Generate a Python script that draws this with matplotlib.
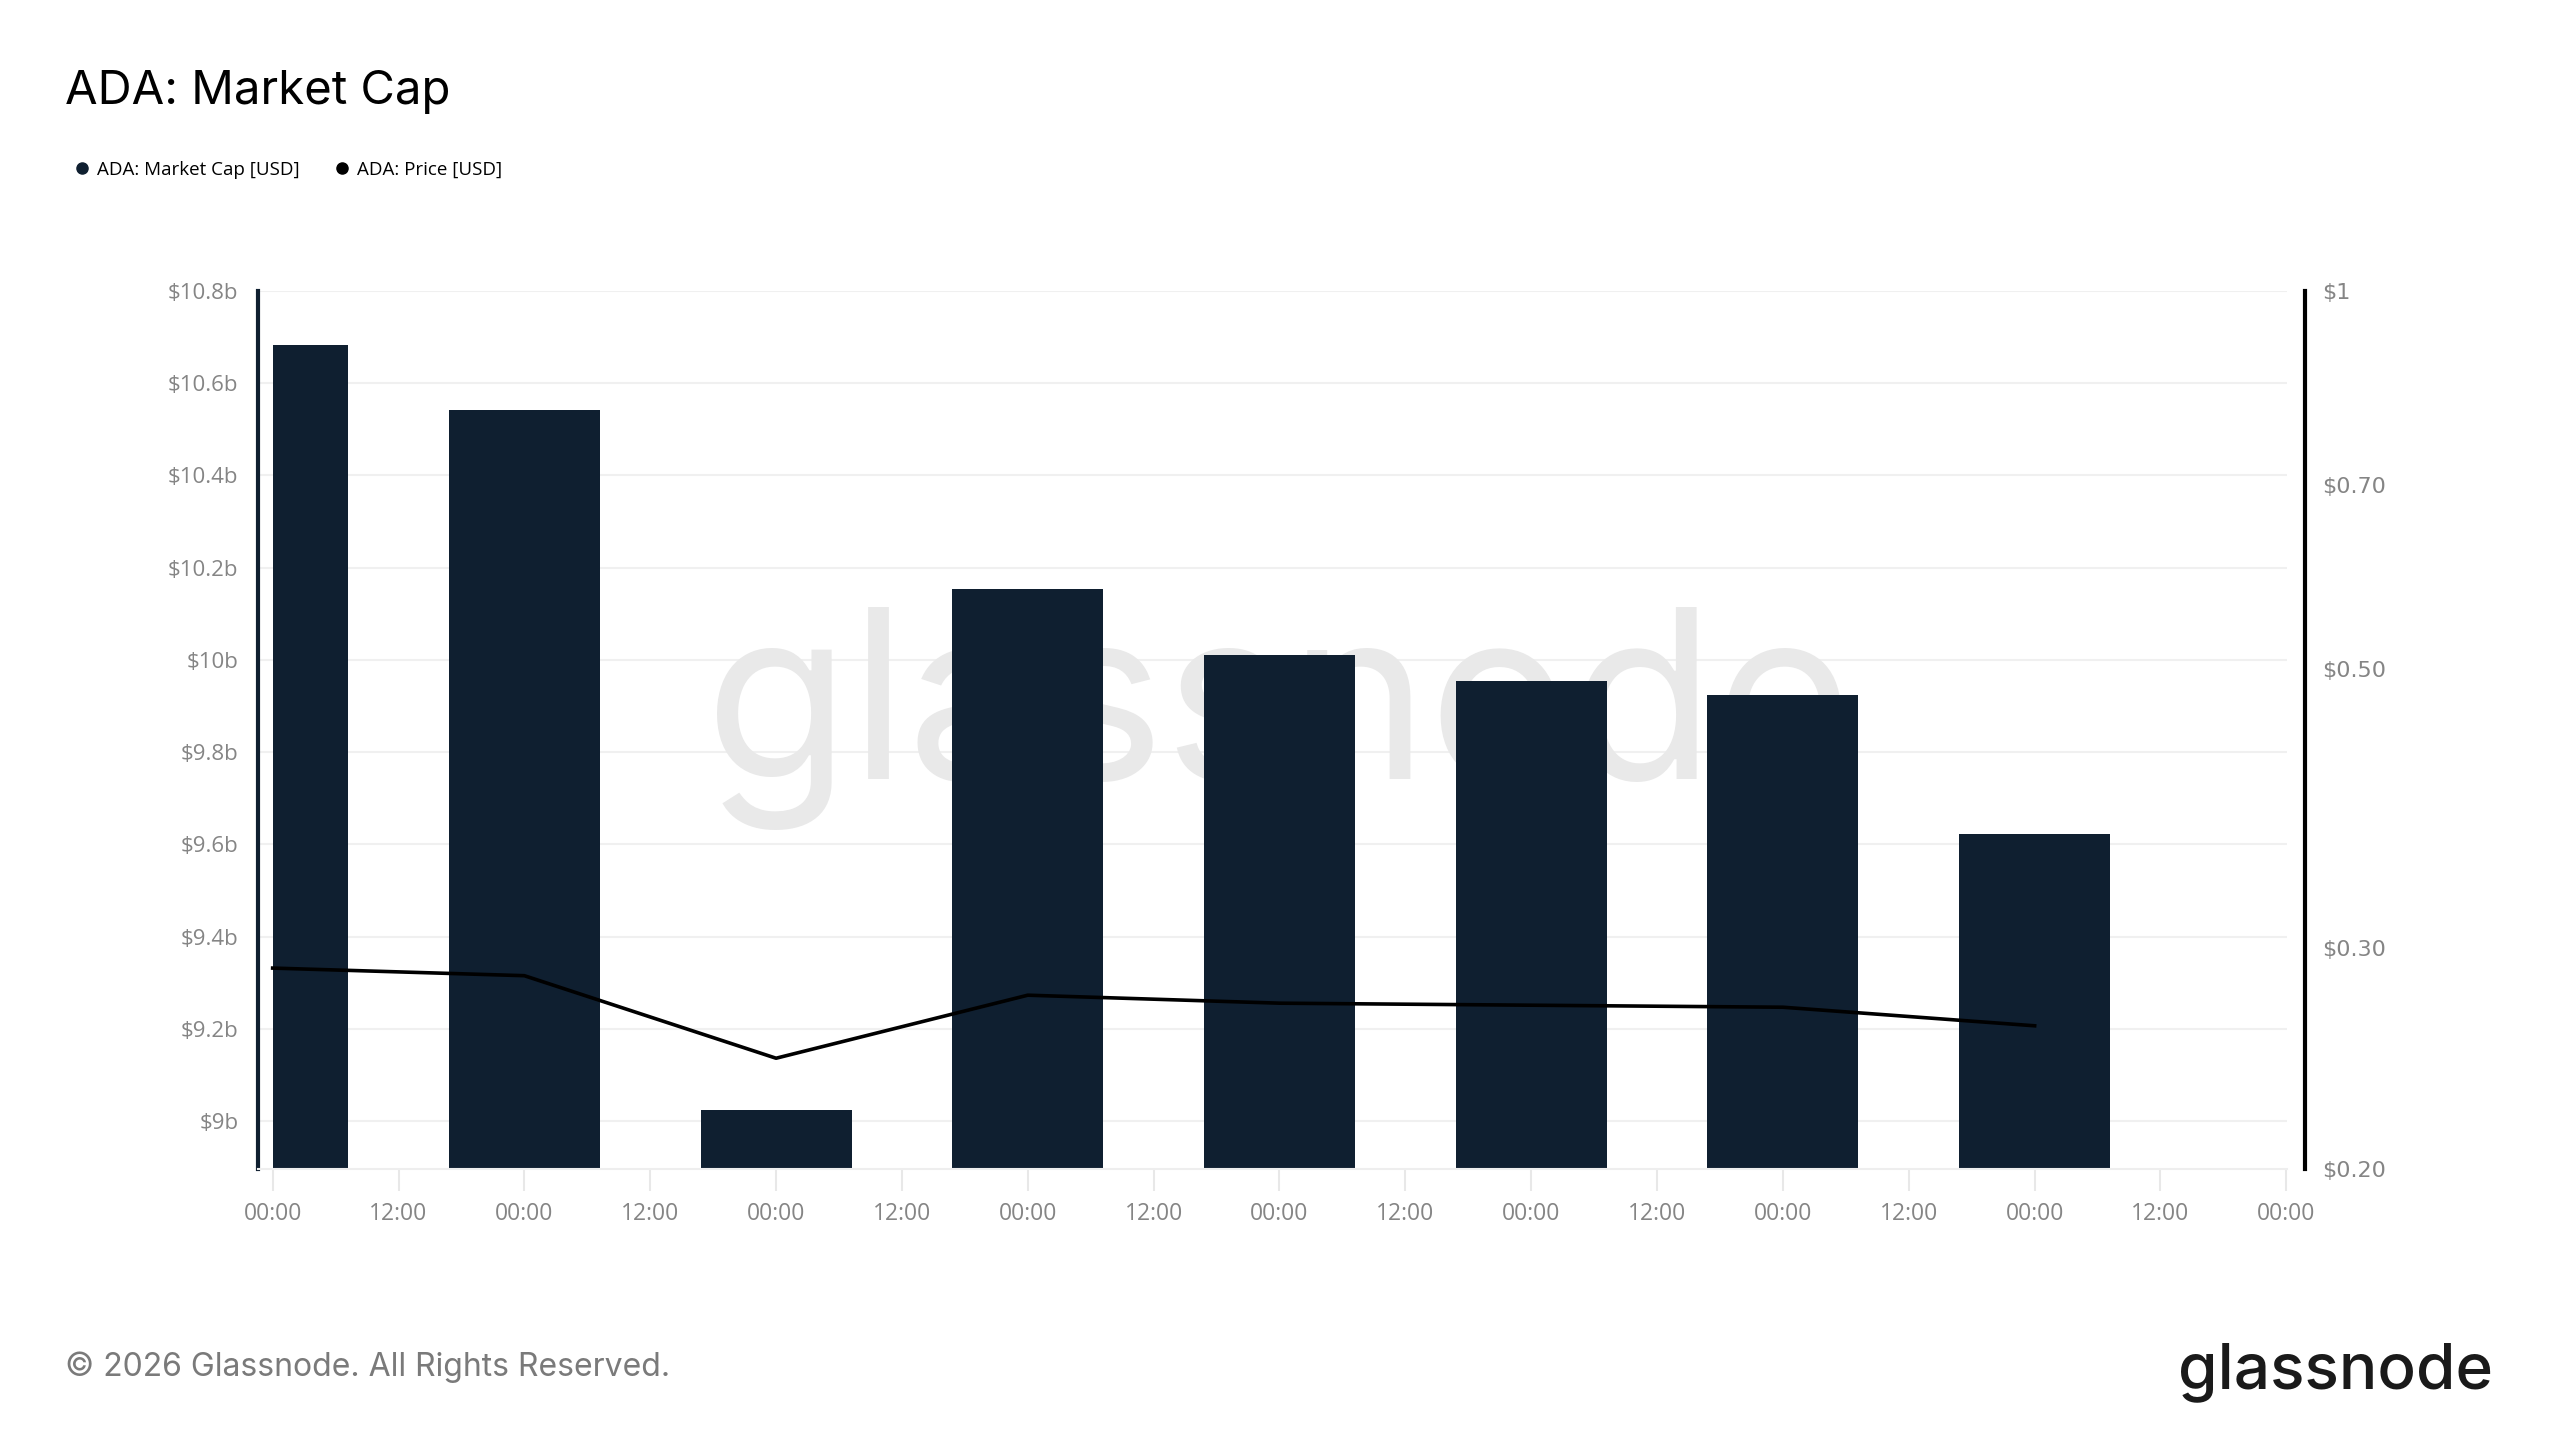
import numpy as np
import matplotlib
matplotlib.use("Agg")
import matplotlib.pyplot as plt
from matplotlib.lines import Line2D
from matplotlib.ticker import FixedLocator, NullLocator

# data (one bar per day)
days = [0, 1, 2, 3, 4, 5, 6, 7]
market_cap_b = [10.683, 10.542, 9.025, 10.153, 10.011, 9.955, 9.923, 9.623]
price_usd = [0.289, 0.285, 0.245, 0.275, 0.271, 0.270, 0.269, 0.260]

cap_ticks = [9.0, 9.2, 9.4, 9.6, 9.8, 10.0, 10.2, 10.4, 10.6, 10.8]
price_ticks = [0.20, 0.30, 0.50, 0.70, 1.0]
price_labels = ["$0.20", "$0.30", "$0.50", "$0.70", "$1"]

navy = "#0f1f30"
gray = "#858585"
tick_font = "Open Sans"

fig = plt.figure(figsize=(25.6, 14.4), dpi=100)
fig.patch.set_facecolor("white")
ax = fig.add_axes([0.1008, 0.1882, 0.7926, 0.61])

# first bar is cut at the start of the range, the others are centred on 00:00
bar_w = 0.6
lefts = []
widths = []
for d in days:
    if d == days[0]:
        lefts.append(d)
        widths.append(bar_w / 2)
    else:
        lefts.append(d - bar_w / 2)
        widths.append(bar_w)
ax.bar(lefts, market_cap_b, width=widths, align="edge", color=navy, zorder=2)

ax.set_ylim(8.897, 10.8)
ax.set_xlim(-0.058, 8.003)
ax.yaxis.set_major_locator(FixedLocator(cap_ticks))
ax.set_yticklabels(["$%gb" % v for v in cap_ticks], fontfamily=tick_font)
ax.yaxis.grid(True, color="#f0f0f0", lw=1.5)
ax.set_axisbelow(True)

xt = np.arange(0, 8.01, 0.5)
ax.set_xticks(xt)
ax.set_xticklabels(["00:00" if i % 2 == 0 else "12:00" for i in range(len(xt))],
                   fontfamily=tick_font)
ax.tick_params(axis="x", length=16, width=1.5, color="#e8e8e8",
               labelcolor=gray, labelsize=16.5, pad=8)
ax.tick_params(axis="y", length=0, labelcolor=gray, labelsize=16, pad=14)

for s in ["top", "right"]:
    ax.spines[s].set_visible(False)
ax.spines["bottom"].set_color("#eeeeee")
ax.spines["bottom"].set_linewidth(1.5)
ax.spines["left"].set_color(navy)
ax.spines["left"].set_linewidth(3)

# watermark
ax.text(0.503, 0.513, "glassnode", transform=ax.transAxes, ha="center", va="center",
        fontsize=170, fontfamily="Inter", color="#e9e9e9", zorder=1)

# price on log right axis
ax2 = ax.twinx()
ax2.plot(days, price_usd, color="black", lw=2.6, zorder=3)
ax2.set_yscale("log")
ax2.set_ylim(0.2, 1.0)
ax2.yaxis.set_major_locator(FixedLocator(price_ticks))
ax2.yaxis.set_minor_locator(NullLocator())
ax2.set_yticklabels(price_labels, fontfamily=tick_font)
ax2.tick_params(axis="y", length=0, labelcolor=gray, labelsize=16, pad=12)
for s in ["top", "left", "bottom"]:
    ax2.spines[s].set_visible(False)
ax2.spines["right"].set_position(("outward", 13))
ax2.spines["right"].set_color("black")
ax2.spines["right"].set_linewidth(3)

# title and legend
fig.text(0.0254, 0.9278, "ADA: Market Cap", fontsize=34, fontfamily="Inter",
         color="black", va="baseline")
handles = [
    Line2D([], [], marker="o", ls="", color=navy, markersize=8),
    Line2D([], [], marker="o", ls="", color="black", markersize=8),
]
fig.legend(handles, ["ADA: Market Cap [USD]", "ADA: Price [USD]"],
           loc="center left", bbox_to_anchor=(0.018, 0.882), ncol=2,
           frameon=False, handletextpad=-0.2, columnspacing=1.3,
           prop={"family": tick_font, "size": 13.5})

# footer
fig.text(0.0254, 0.0444, "\u00a9 2026 Glassnode. All Rights Reserved.", fontsize=23,
         fontfamily="Inter", color="#7a7a7a", va="baseline")
fig.text(0.9738, 0.036, "glassnode", fontsize=46, fontfamily="Inter",
         fontweight="medium", color="#1a1a1a", ha="right", va="baseline")

fig.savefig("out.png", dpi=100)
